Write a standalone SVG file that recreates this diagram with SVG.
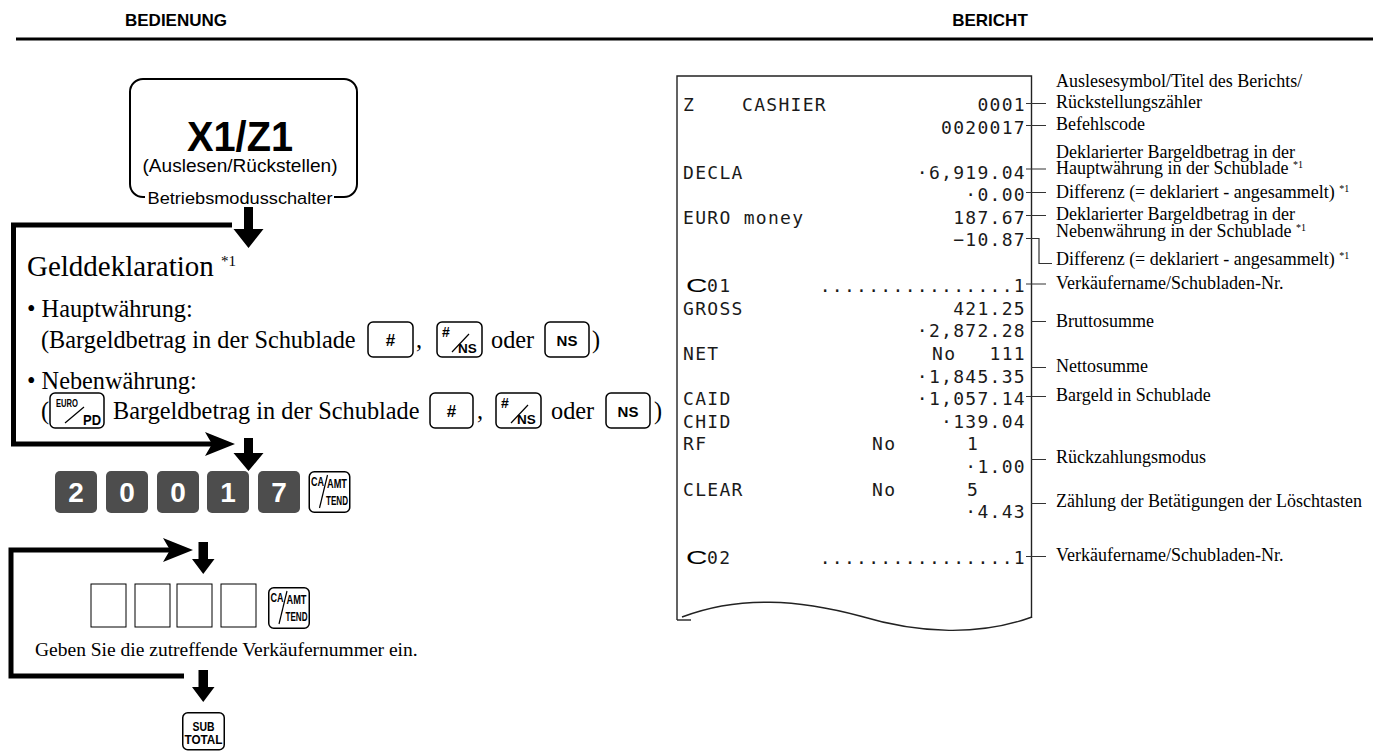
<svg xmlns="http://www.w3.org/2000/svg" width="1390" height="751" viewBox="0 0 1390 751">
<style>
.hdr{font-family:"Liberation Sans",Arial,sans-serif;font-weight:bold;font-size:17px;text-anchor:middle;fill:#000}
.ser{font-family:"Liberation Serif","Times New Roman",serif;fill:#000}
.body{font-size:24.3px}
.lbl{font-size:18px}
.sans{font-family:"Liberation Sans",Arial,sans-serif;fill:#000}
.rc{font-family:"DejaVu Sans Mono",monospace;font-size:18px;letter-spacing:1.3px;fill:#1a1a1a}
.r{text-anchor:end}
.key{fill:#fff;stroke:#000;stroke-width:1.5}
.kt{font-family:"Liberation Sans",Arial,sans-serif;font-weight:bold;fill:#000}
.m{text-anchor:middle}
.nk{fill:#4d4d4d}
.nt{font-family:"Liberation Sans",Arial,sans-serif;font-weight:bold;font-size:28px;fill:#fff;text-anchor:middle}
.flow{fill:none;stroke:#000;stroke-width:5}
.arr{fill:#000}
.tick{stroke:#333;stroke-width:1.2;fill:none}
.edge{stroke:#222;stroke-width:1.4;fill:none}
.sl{stroke:#000;stroke-width:1.2}
.box{fill:none;stroke:#000;stroke-width:1}
</style>
<defs>
<path id="ah" d="M0 0 L-30 -12 L-23 0 L-30 12 Z"/>
<g id="caKey">
<rect class="key" x="0.75" y="0.75" width="40.5" height="40.5" rx="5"/>
<text class="kt" x="2.5" y="15" font-size="13" textLength="13" lengthAdjust="spacingAndGlyphs">CA</text>
<text class="kt" x="18.5" y="17" font-size="12" textLength="20" lengthAdjust="spacingAndGlyphs">AMT</text>
<text class="kt" x="17.5" y="34" font-size="12" textLength="22" lengthAdjust="spacingAndGlyphs">TEND</text>
<line class="sl" x1="11" y1="37" x2="19" y2="4"/>
</g>
</defs>

<g id="header">
<text class="hdr" x="176" y="26">BEDIENUNG</text>
<text class="hdr" x="990" y="26">BERICHT</text>
<line x1="16" y1="39" x2="1373" y2="39" stroke="#000" stroke-width="3"/>
</g>

<g id="mode-switch">
<path d="M145 197 H143 A13 13 0 0 1 130 184 V92 A13 13 0 0 1 143 79 H344 A13 13 0 0 1 357 92 V184 A13 13 0 0 1 344 197 H334" fill="none" stroke="#000" stroke-width="2"/>
<text class="kt m" x="240" y="151" font-size="42" textLength="106" lengthAdjust="spacingAndGlyphs">X1/Z1</text>
<text class="sans m" x="240" y="172" font-size="18.5" textLength="195" lengthAdjust="spacingAndGlyphs">(Auslesen/Rückstellen)</text>
<text class="sans m" x="240" y="204" font-size="17" textLength="185" lengthAdjust="spacingAndGlyphs">Betriebsmodusschalter</text>
</g>

<g id="step-declaration">
<text class="ser" x="27" y="276" font-size="29">Gelddeklaration <tspan font-size="15" dy="-10">*1</tspan></text>
<text class="ser body" x="27" y="317">• Hauptwährung:</text>
<text class="ser body" x="41" y="348">(Bargeldbetrag in der Schublade</text>
<text class="ser body" x="416" y="348">,</text>
<text class="ser body" x="491" y="348">oder</text>
<text class="ser body" x="592" y="348">)</text>
<g id="key-hash-1">
<rect class="key" x="368" y="322" width="45" height="35" rx="5"/>
<text class="kt m" x="390.5" y="345.5" font-size="17">#</text>
</g>
<g id="key-hashns-1">
<rect class="key" x="437" y="322" width="45" height="35" rx="5"/>
<text class="kt" x="442" y="337" font-size="14">#</text>
<line class="sl" x1="452" y1="352" x2="469" y2="334"/>
<text class="kt" x="458" y="353" font-size="13.5">NS</text>
</g>
<g id="key-ns-1">
<rect class="key" x="545" y="322" width="44" height="35" rx="5"/>
<text class="kt m" x="567" y="345.5" font-size="15">NS</text>
</g>
<text class="ser body" x="27" y="389">• Nebenwährung:</text>
<text class="ser body" x="41" y="419">(</text>
<g id="key-euro">
<rect class="key" x="50" y="393" width="54" height="35" rx="5"/>
<text class="kt" x="56" y="407" font-size="10" textLength="22" lengthAdjust="spacingAndGlyphs">EURO</text>
<line class="sl" x1="65" y1="423" x2="84" y2="407"/>
<text class="kt" x="83" y="425" font-size="14" textLength="18" lengthAdjust="spacingAndGlyphs">PD</text>
</g>
<text class="ser body" x="113" y="419">Bargeldbetrag in der Schublade</text>
<text class="ser body" x="477" y="419">,</text>
<text class="ser body" x="551" y="419">oder</text>
<text class="ser body" x="654" y="419">)</text>
<g id="key-hash-2">
<rect class="key" x="430" y="393" width="43" height="35" rx="5"/>
<text class="kt m" x="451.5" y="416.5" font-size="17">#</text>
</g>
<g id="key-hashns-2">
<rect class="key" x="496" y="393" width="45" height="35" rx="5"/>
<text class="kt" x="501" y="408" font-size="14">#</text>
<line class="sl" x1="511" y1="423" x2="528" y2="405"/>
<text class="kt" x="517" y="424" font-size="13.5">NS</text>
</g>
<g id="key-ns-2">
<rect class="key" x="606" y="393" width="44" height="35" rx="5"/>
<text class="kt m" x="628" y="416.5" font-size="15">NS</text>
</g>
</g>

<g id="step-code">
<rect class="nk" x="55" y="471" width="42" height="42" rx="5"/>
<text class="nt" x="76" y="502">2</text>
<rect class="nk" x="106" y="471" width="42" height="42" rx="5"/>
<text class="nt" x="127" y="502">0</text>
<rect class="nk" x="157" y="471" width="42" height="42" rx="5"/>
<text class="nt" x="178" y="502">0</text>
<rect class="nk" x="207" y="471" width="42" height="42" rx="5"/>
<text class="nt" x="228" y="502">1</text>
<rect class="nk" x="258" y="471" width="42" height="42" rx="5"/>
<text class="nt" x="279" y="502">7</text>
<use href="#caKey" x="308.5" y="471"/>
</g>

<g id="step-clerk">
<rect class="box" x="91" y="584" width="35" height="43"/>
<rect class="box" x="135" y="584" width="35" height="43"/>
<rect class="box" x="177" y="584" width="35" height="43"/>
<rect class="box" x="221" y="584" width="35" height="43"/>
<use href="#caKey" x="268" y="587"/>
<text class="ser" x="35" y="656" font-size="19.5">Geben Sie die zutreffende Verkäufernummer ein.</text>
</g>

<g id="subtotal">
<rect class="key" x="182.75" y="712.75" width="41.5" height="37" rx="5"/>
<text class="kt m" x="203.5" y="731" font-size="12" textLength="22" lengthAdjust="spacingAndGlyphs">SUB</text>
<text class="kt m" x="203.5" y="744" font-size="12" textLength="38" lengthAdjust="spacingAndGlyphs">TOTAL</text>
</g>

<g id="receipt">
<path class="edge" d="M677 620 V76 H1031.5 V618"/>
<path class="edge" d="M677 620 H691"/>
<path class="edge" d="M682 617 C740 595 800 600 860 616 C920 634 980 636 1032 617"/>
<text class="rc" x="683" y="111">Z</text>
<text class="rc" x="742" y="111">CASHIER</text>
<text class="rc r" x="1026" y="111">0001</text>
<text class="rc r" x="1026" y="134">0020017</text>
<text class="rc" x="683" y="179">DECLA</text>
<text class="rc r" x="1026" y="179">·6,919.04</text>
<text class="rc r" x="1026" y="201">·0.00</text>
<text class="rc" x="683" y="224">EURO money</text>
<text class="rc r" x="1026" y="224">187.67</text>
<text class="rc r" x="1026" y="246">−10.87</text>
<text class="sans" font-size="18" transform="translate(686 292) scale(1.65 1)">C</text>
<text class="rc" x="707" y="292">01</text>
<text class="rc r" x="1026" y="292">................1</text>
<text class="rc" x="683" y="314.5">GROSS</text>
<text class="rc r" x="1026" y="314.5">421.25</text>
<text class="rc r" x="1026" y="337">·2,872.28</text>
<text class="rc" x="683" y="360">NET</text>
<text class="rc" x="932" y="360">No</text>
<text class="rc r" x="1026" y="360">111</text>
<text class="rc r" x="1026" y="382.5">·1,845.35</text>
<text class="rc" x="683" y="405">CAID</text>
<text class="rc r" x="1026" y="405">·1,057.14</text>
<text class="rc" x="683" y="427.5">CHID</text>
<text class="rc r" x="1026" y="427.5">·139.04</text>
<text class="rc" x="683" y="450">RF</text>
<text class="rc" x="872" y="450">No</text>
<text class="rc" x="967" y="450">1</text>
<text class="rc r" x="1026" y="473">·1.00</text>
<text class="rc" x="683" y="495.5">CLEAR</text>
<text class="rc" x="872" y="495.5">No</text>
<text class="rc" x="967" y="495.5">5</text>
<text class="rc r" x="1026" y="518">·4.43</text>
<text class="sans" font-size="18" transform="translate(686 563.5) scale(1.65 1)">C</text>
<text class="rc" x="707" y="563.5">02</text>
<text class="rc r" x="1026" y="563.5">................1</text>
</g>

<g id="labels">
<text class="ser lbl" x="1056" y="87">Auslesesymbol/Titel des Berichts/</text>
<text class="ser lbl" x="1056" y="107.5">Rückstellungszähler</text>
<text class="ser lbl" x="1056" y="129.5">Befehlscode</text>
<text class="ser lbl" x="1056" y="157.5">Deklarierter Bargeldbetrag in der</text>
<text class="ser lbl" x="1056" y="174">Hauptwährung in der Schublade <tspan font-size="10" dy="-6">*1</tspan></text>
<text class="ser lbl" x="1056" y="197.5">Differenz (= deklariert - angesammelt) <tspan font-size="10" dy="-6">*1</tspan></text>
<text class="ser lbl" x="1056" y="220">Deklarierter Bargeldbetrag in der</text>
<text class="ser lbl" x="1056" y="236.5">Nebenwährung in der Schublade <tspan font-size="10" dy="-6">*1</tspan></text>
<text class="ser lbl" x="1056" y="264.5">Differenz (= deklariert - angesammelt) <tspan font-size="10" dy="-6">*1</tspan></text>
<text class="ser lbl" x="1056" y="288.5">Verkäufername/Schubladen-Nr.</text>
<text class="ser lbl" x="1056" y="326.5">Bruttosumme</text>
<text class="ser lbl" x="1056" y="371.5">Nettosumme</text>
<text class="ser lbl" x="1056" y="400.5">Bargeld in Schublade</text>
<text class="ser lbl" x="1056" y="463">Rückzahlungsmodus</text>
<text class="ser lbl" x="1056" y="507">Zählung der Betätigungen der Löschtasten</text>
<text class="ser lbl" x="1056" y="561">Verkäufername/Schubladen-Nr.</text>
</g>

<g id="connectors">
<path class="flow" d="M232 225 H13.5 V444 H212"/>
<use href="#ah" class="arr" x="235" y="444"/>
<path class="arr" d="M244 207 H253 V229 H263.5 L248.5 248 L233.5 229 H244 Z"/>
<path class="arr" d="M244 438 H253 V453 H263.5 L248.5 471 L233.5 453 H244 Z"/>
<path class="flow" d="M170 550 H11 V676 H184"/>
<use href="#ah" class="arr" x="193" y="550"/>
<path class="arr" d="M198.5 542 H208 V559 H214.5 L203.25 574 L192 559 H198.5 Z"/>
<path class="arr" d="M198.5 670 H208 V687 H214.5 L203.25 702 L192 687 H198.5 Z"/>
<path class="tick" d="M1026 103.5 H1046 M1026 125.5 H1046 M1026 169 H1046 M1026 192.5 H1046 M1026 215.5 H1046 M1026 284 H1046 M1031 321.5 H1046 M1031 367.5 H1046 M1026 396.5 H1046 M1031 459.5 H1046 M1031 503.5 H1046 M1026 556.5 H1046"/>
<path class="tick" d="M1026 238.5 H1039 V263.5 H1052"/>
</g>
</svg>
